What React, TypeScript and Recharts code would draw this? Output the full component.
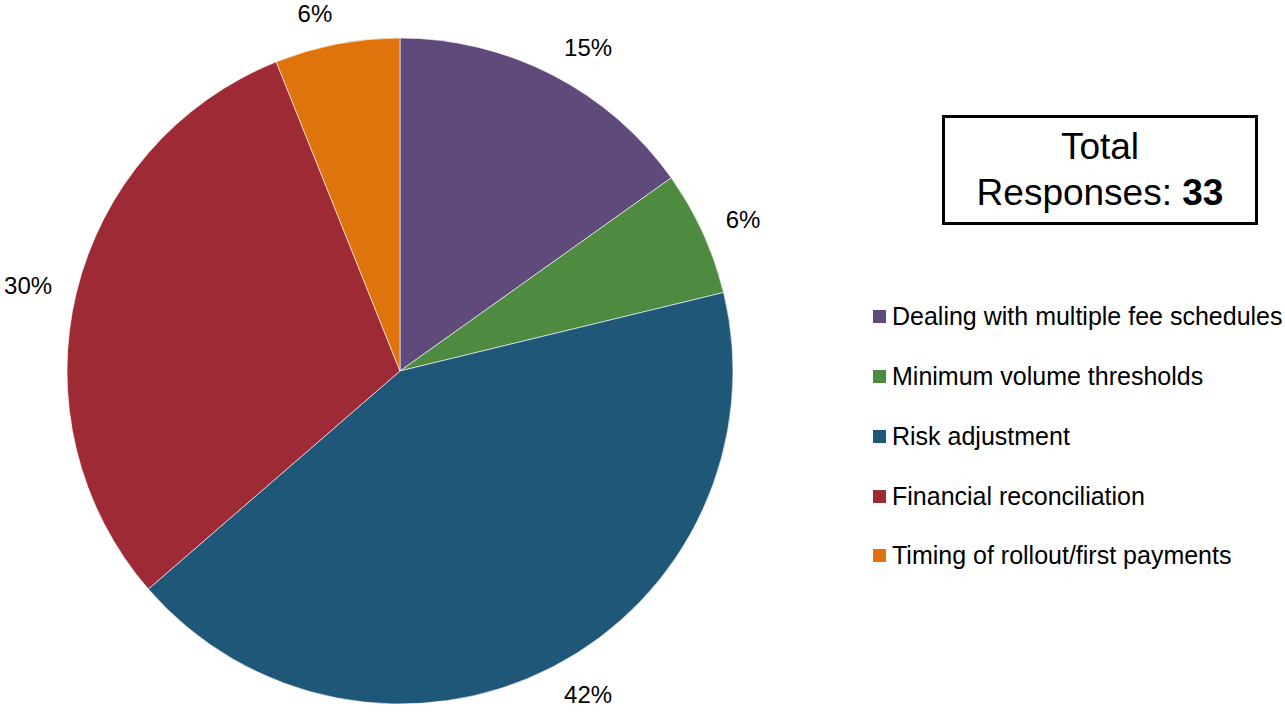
import { PieChart, Pie, Cell, Legend } from 'recharts';

const categories = [
  'Dealing with multiple fee schedules',
  'Minimum volume thresholds',
  'Risk adjustment',
  'Financial reconciliation',
  'Timing of rollout/first payments',
];
const responses = [5, 2, 14, 10, 2];
const colors = ['#604A7B', '#4F8A41', '#1F5779', '#9E2A36', '#E0740C'];
const totalResponses = 33;

const data = categories.map((name, i) => ({ name, value: responses[i] }));

const FONT = "'Liberation Sans', Arial, sans-serif";
const RAD = Math.PI / 180;

// outside-end label: anchored at a point past the rim, text grows away from the pie
const renderLabel = (props: any) => {
  const { cx, cy, midAngle, outerRadius, percent } = props;
  const dx = Math.cos(-midAngle * RAD);
  const dy = Math.sin(-midAngle * RAD);
  const r = outerRadius + 25;
  return (
    <text
      x={cx + r * dx}
      y={cy + r * dy + dy * 6}
      textAnchor={dx >= 0 ? 'start' : 'end'}
      dominantBaseline="central"
      fill="#000"
      fontSize={24}
      fontFamily={FONT}
    >
      {`${Math.round(percent * 100)}%`}
    </text>
  );
};

const renderLegend = () => (
  <div style={{ fontFamily: FONT, fontSize: 25, color: '#000' }}>
    {categories.map((c, i) => (
      <div key={c} style={{ display: 'flex', alignItems: 'center', height: 59.75, whiteSpace: 'nowrap' }}>
        <span style={{ display: 'inline-block', width: 13, height: 13, background: colors[i], marginRight: 6 }} />
        <span>{c}</span>
      </div>
    ))}
  </div>
);

export default function App() {
  return (
    <div style={{ position: 'absolute', left: 0, top: 0, width: 1285, height: 712, background: '#fff' }}>
      <PieChart width={1285} height={712} margin={{ top: 0, right: 0, bottom: 0, left: 0 }}>
        <Pie
          data={data}
          dataKey="value"
          nameKey="name"
          cx={400}
          cy={371}
          outerRadius={333}
          startAngle={90}
          endAngle={-270}
          stroke="#ffffff"
          strokeWidth={0.6}
          label={renderLabel}
          labelLine={false}
          isAnimationActive={false}
        >
          {data.map((d, i) => (
            <Cell key={d.name} fill={colors[i]} />
          ))}
        </Pie>
        <Legend
          content={renderLegend}
          layout="vertical"
          wrapperStyle={{ position: 'absolute', left: 873, top: 287, width: 420 }}
        />
      </PieChart>
      <div
        style={{
          position: 'absolute',
          left: 942,
          top: 115,
          width: 310,
          height: 104,
          border: '3px solid #000',
          fontFamily: FONT,
          fontSize: 37,
          lineHeight: '46px',
          textAlign: 'center',
          color: '#000',
          display: 'flex',
          flexDirection: 'column',
          justifyContent: 'center',
        }}
      >
        <div>Total</div>
        <div>
          Responses: <b>{totalResponses}</b>
        </div>
      </div>
    </div>
  );
}
